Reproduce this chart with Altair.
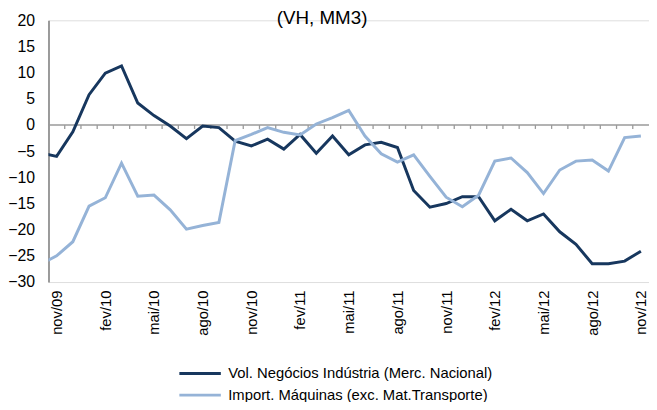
import json
import altair as alt
import pandas as pd

periods = [
    "out/09", "nov/09", "dez/09",
    "jan/10", "fev/10", "mar/10", "abr/10", "mai/10", "jun/10",
    "jul/10", "ago/10", "set/10", "out/10", "nov/10", "dez/10",
    "jan/11", "fev/11", "mar/11", "abr/11", "mai/11", "jun/11",
    "jul/11", "ago/11", "set/11", "out/11", "nov/11", "dez/11",
    "jan/12", "fev/12", "mar/12", "abr/12", "mai/12", "jun/12",
    "jul/12", "ago/12", "set/12", "out/12", "nov/12",
]

vol_negocios = [
    -5.3, -6.0, -1.3,
    5.8, 9.9, 11.3, 4.2, 1.8, -0.2,
    -2.6, -0.2, -0.5, -3.1, -4.0, -2.7,
    -4.6, -1.8, -5.4, -2.1, -5.7, -3.8,
    -3.3, -4.3, -12.5, -15.7, -15.0, -13.7,
    -13.7, -18.3, -16.1, -18.3, -17.0, -20.4,
    -22.8, -26.5, -26.5, -26.0, -24.1,
]

import_maquinas = [
    -26.6, -25.0, -22.3,
    -15.5, -13.9, -7.3, -13.6, -13.4, -16.2,
    -19.9, -19.2, -18.6, -3.0, -1.8, -0.5,
    -1.4, -1.9, 0.2, 1.4, 2.8, -2.1,
    -5.5, -7.1, -5.7, -9.8, -13.8, -15.6,
    -13.4, -6.9, -6.3, -9.1, -13.1, -8.6,
    -6.9, -6.7, -8.8, -2.4, -2.1,
]

series_names = [
    "Vol. Negócios Indústria (Merc. Nacional)",
    "Import. Máquinas (exc. Mat.Transporte)",
]
series_colors = ["#17375E", "#95B3D7"]
y_ticks = [-30, -25, -20, -15, -10, -5, 0, 5, 10, 15, 20]
title_text = "(VH, MM3)"

FONT = "Liberation Sans"
AXIS_GREY = "#9a9a9a"

# position index: out/09 -> -1, nov/09 -> 0, ..., nov/12 -> 36
rows = []
for i, p in enumerate(periods):
    k = i - 1
    rows.append({"k": k, "periodo": p, "serie": series_names[0], "valor": vol_negocios[i]})
    rows.append({"k": k, "periodo": p, "serie": series_names[1], "valor": import_maquinas[i]})
df = pd.DataFrame(rows)

n_last = len(periods) - 2
label_values = list(range(0, n_last + 1, 3))
label_expr = json.dumps(periods) + "[datum.value + 1]"
boundaries = [k + 0.5 for k in range(0, n_last)]

x_scale = alt.Scale(domain=[-0.5, n_last + 0.5], nice=False, zero=False)
y_scale = alt.Scale(domain=[-30, 20], nice=False, zero=False)

x_enc = alt.X(
    "k:Q",
    scale=x_scale,
    axis=alt.Axis(
        values=label_values,
        labelExpr=label_expr,
        labelAngle=270,
        labelAlign="right",
        labelBaseline="middle",
        labelPadding=8,
        labelFontSize=15,
        labelFont=FONT,
        labelColor="#000000",
        labelOverlap=False,
        labelFlush=False,
        ticks=False,
        domain=False,
        grid=False,
        title=None,
    ),
)
y_enc = alt.Y(
    "valor:Q",
    scale=y_scale,
    axis=alt.Axis(
        values=y_ticks,
        labelPadding=14,
        labelFontSize=16,
        labelFont=FONT,
        labelColor="#000000",
        ticks=False,
        domain=True,
        domainColor=AXIS_GREY,
        domainWidth=2,
        grid=False,
        title=None,
    ),
)

zero_df = pd.DataFrame({"valor": [0]})
zero_line = alt.Chart(zero_df).mark_rule(color=AXIS_GREY, strokeWidth=1.5).encode(y=y_enc)

tick_df = pd.DataFrame({"k": boundaries, "valor": [0] * len(boundaries)})
tick_marks = alt.Chart(tick_df).mark_tick(
    orient="vertical", size=4, thickness=1.3, color=AXIS_GREY, yOffset=2, opacity=1
).encode(x=x_enc, y=y_enc)

lines = alt.Chart(df).mark_line(strokeWidth=3, clip=True).encode(
    x=x_enc,
    y=y_enc,
    color=alt.Color(
        "serie:N",
        scale=alt.Scale(domain=series_names, range=series_colors),
        sort=series_names,
        legend=alt.Legend(
            orient="none",
            legendX=145,
            legendY=349,
            direction="vertical",
            symbolType="M-3,0H3",
            symbolStrokeWidth=3,
            symbolSize=196,
            labelFontSize=15,
            labelFont=FONT,
            labelColor="#000000",
            labelOffset=20,
            labelLimit=500,
            rowPadding=5,
            title=None,
        ),
    ),
)

chart = (
    alt.layer(zero_line, tick_marks, lines)
    .properties(
        width=608,
        height=265,
        autosize=alt.AutoSizeParams(type="none"),
        padding={"left": 41, "top": 10, "right": 0, "bottom": 119},
        title=alt.TitleParams(
            title_text,
            fontSize=19,
            font=FONT,
            fontWeight="normal",
            color="#000000",
            anchor="middle",
            dx=-27,
            dy=20,
        ),
    )
    .configure_view(stroke=None)
    .configure(background="#ffffff")
)

chart.save("out.html", embed_options={"renderer": "svg", "actions": False})
